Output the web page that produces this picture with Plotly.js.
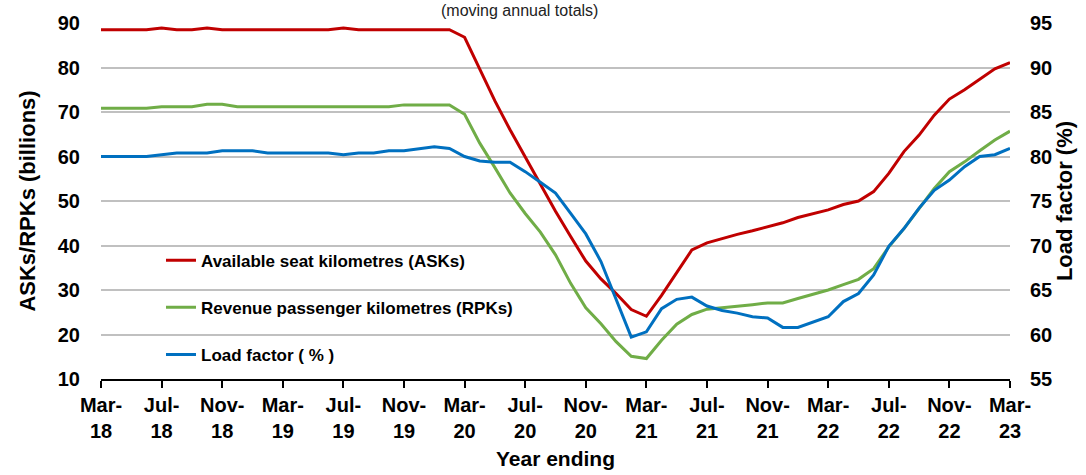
<!DOCTYPE html>
<html>
<head>
<meta charset="utf-8">
<script src="https://cdn.plot.ly/plotly-3.0.1.min.js"></script>
<style>html,body{margin:0;padding:0;background:#fff;}#chart{width:1086px;height:475px;}</style>
</head>
<body>
<div id="chart"></div>
<script>
const months = (function(){
  const m = ["Jan","Feb","Mar","Apr","May","Jun","Jul","Aug","Sep","Oct","Nov","Dec"];
  const out = [];
  let mi = 2, yr = 18;
  for (let k = 0; k < 61; k++) { out.push(m[mi] + "-" + yr); mi++; if (mi === 12) { mi = 0; yr++; } }
  return out;
})();

const tickCategories = ["Mar-18","Jul-18","Nov-18","Mar-19","Jul-19","Nov-19","Mar-20","Jul-20","Nov-20","Mar-21","Jul-21","Nov-21","Mar-22","Jul-22","Nov-22","Mar-23"];
const tickLabels = ["Mar-<br>18","Jul-<br>18","Nov-<br>18","Mar-<br>19","Jul-<br>19","Nov-<br>19","Mar-<br>20","Jul-<br>20","Nov-<br>20","Mar-<br>21","Jul-<br>21","Nov-<br>21","Mar-<br>22","Jul-<br>22","Nov-<br>22","Mar-<br>23"];

const asks = [88.5,88.5,88.5,88.5,88.9,88.5,88.5,88.9,88.5,88.5,88.5,88.5,88.5,88.5,88.5,88.5,88.9,88.5,88.5,88.5,88.5,88.5,88.5,88.5,
  86.8,79.8,72.5,66.0,59.9,53.8,47.7,42.0,36.5,32.5,29.2,25.6,24.1,
  28.8,33.8,39.0,40.6,41.6,42.5,43.3,44.2,45.1,46.3,47.2,48.0,
  49.2,50.0,52.1,56.2,61.1,64.8,69.3,72.9,75.0,77.4,79.7,81.1];

const rpks = [70.85,70.85,70.85,70.85,71.2,71.2,71.2,71.75,71.75,71.2,71.2,71.2,71.2,71.2,71.2,71.2,71.2,71.2,71.2,71.2,71.6,71.6,71.6,71.6,
  69.5,63.0,57.5,51.8,47.2,43.0,37.9,31.5,26.0,22.4,18.4,15.1,14.6,
  18.7,22.3,24.5,25.7,26.0,26.4,26.7,27.1,27.1,28.1,29.0,30.0,
  31.2,32.4,34.8,39.7,43.8,48.3,52.8,56.6,58.8,61.3,63.7,65.7];

const loadFactor = [80.0,80.0,80.0,80.0,80.2,80.4,80.4,80.4,80.65,80.65,80.65,80.4,80.4,80.4,80.4,80.4,80.2,80.4,80.4,80.65,80.65,80.9,81.1,80.9,
  80.0,79.5,79.35,79.35,78.3,77.1,75.9,73.6,71.3,68.2,64.0,59.7,60.3,
  62.9,63.95,64.2,63.2,62.7,62.4,62.0,61.85,60.8,60.8,61.4,62.0,
  63.7,64.6,66.7,69.9,71.9,74.2,76.2,77.35,78.85,80.0,80.2,80.9];

const FONT = "Liberation Sans, Arial, sans-serif";

const traces = [
  {x: months, y: asks, type: "scatter", mode: "lines", name: "<b>Available seat kilometres (ASKs)</b>",
   line: {color: "#C00000", width: 3}, legendgroup: "a", yaxis: "y"},
  {x: months, y: rpks, type: "scatter", mode: "lines", name: "<b>Revenue passenger kilometres (RPKs)</b>",
   line: {color: "#70AD47", width: 3}, legendgroup: "b", yaxis: "y"},
  {x: months, y: loadFactor, type: "scatter", mode: "lines", name: "<b>Load factor ( % )</b>",
   line: {color: "#0070C0", width: 3}, legendgroup: "c", yaxis: "y2"}
];

const layout = {
  width: 1086, height: 475,
  margin: {l: 101, r: 76, t: 23, b: 96, pad: 0},
  paper_bgcolor: "#fff", plot_bgcolor: "#fff",
  font: {family: FONT, color: "#000"},
  showlegend: true,
  legend: {x: 0.066, y: 0.383, xanchor: "left", yanchor: "top", bgcolor: "rgba(0,0,0,0)",
    font: {family: FONT, size: 17, color: "#000"}, traceorder: "grouped", tracegroupgap: 22},
  xaxis: {
    type: "category", range: [0, 60], tickmode: "array", tickvals: tickCategories, ticktext: tickLabels,
    showgrid: false, zeroline: false, showline: true, linecolor: "#000", linewidth: 2,
    ticks: "outside", ticklen: 7, tickwidth: 2, tickcolor: "#000",
    tickfont: {family: FONT, size: 20, color: "#000", weight: "bold"},
    title: {text: "<b>Year ending</b>", font: {family: FONT, size: 21, color: "#000"}, standoff: 10}
  },
  yaxis: {
    range: [10, 90], dtick: 10, tick0: 10, showgrid: true, gridcolor: "#C0C0C0", gridwidth: 2,
    zeroline: false, showline: false, ticks: "outside", ticklen: 16, tickcolor: "rgba(0,0,0,0)",
    tickfont: {family: FONT, size: 20, color: "#000", weight: "bold"},
    title: {text: "<b>ASKs/RPKs (billions)</b>", font: {family: FONT, size: 22, color: "#000"}, standoff: 16}
  },
  yaxis2: {
    overlaying: "y", side: "right", range: [55, 95], dtick: 5, tick0: 55, showgrid: false, zeroline: false,
    showline: false, ticks: "outside", ticklen: 15, tickcolor: "rgba(0,0,0,0)",
    tickfont: {family: FONT, size: 20, color: "#000", weight: "bold"},
    title: {text: "<b>Load factor (%)</b>", font: {family: FONT, size: 22, color: "#000"}, standoff: 2}
  },
  annotations: [
    {text: "(moving annual totals)", xref: "paper", yref: "paper", x: 0.46, y: 1.0, yanchor: "bottom", yshift: 2,
     showarrow: false, font: {family: FONT, size: 16, color: "#222"}}
  ]
};

Plotly.newPlot("chart", traces, layout, {displayModeBar: false, staticPlot: true});
</script>
</body>
</html>
